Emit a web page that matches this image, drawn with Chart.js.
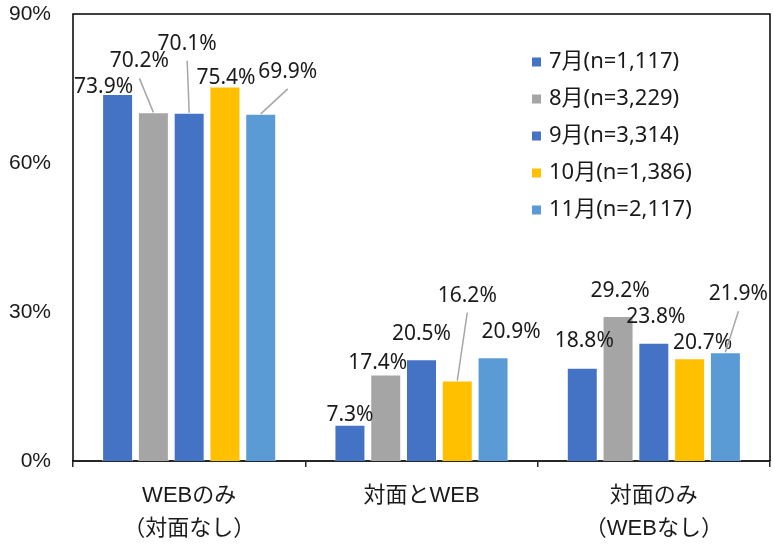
<!DOCTYPE html>
<html>
<head>
<meta charset="utf-8">
<script src="https://cdn.jsdelivr.net/npm/chart.js@4/dist/chart.umd.min.js"></script>
<style>
  body { margin: 0; background: #fff; }
  canvas { display: block; }
</style>
</head>
<body>
<canvas id="chart" width="773" height="545"></canvas>
<script>
const categories = [['WEBのみ', '（対面なし）'], '対面とWEB', ['対面のみ', '（WEBなし）']];
const seriesNames = ['7月(n=1,117)', '8月(n=3,229)', '9月(n=3,314)', '10月(n=1,386)', '11月(n=2,117)'];
const jul = [73.9, 7.3, 18.8];
const aug = [70.2, 17.4, 29.2];
const sep = [70.1, 20.5, 23.8];
const oct = [75.4, 16.2, 20.7];
const nov = [69.9, 20.9, 21.9];
const yTicks = [0, 30, 60, 90];

const colors = ['#4472C4', '#A5A5A5', '#4472C4', '#FFC000', '#5B9BD5'];

// label nudges from bar top (px): [dx, dy, leader line?]
const labelNudge = [
  [[-14, -7], [0, -10], [2, -27]],
  [[-14, -51, true], [-8, -12], [2, -25]],
  [[-2, -69, true], [0, -25], [2, -26]],
  [[1, -8], [10, -85, true], [13, -15]],
  [[27, -42, true], [18, -25], [13, -58, true]]
];

const textColor = '#1a1a1a';
const labelFont = '21px "Noto Sans", "Noto Sans CJK JP", sans-serif';
const legendFont = '22px "Noto Sans", "Noto Sans CJK JP", sans-serif';

const valueLabels = {
  id: 'valueLabels',
  afterDatasetsDraw(chart) {
    const ctx = chart.ctx;
    ctx.save();
    ctx.font = labelFont;
    ctx.textAlign = 'center';
    ctx.textBaseline = 'middle';
    chart.data.datasets.forEach((ds, di) => {
      chart.getDatasetMeta(di).data.forEach((bar, i) => {
        const n = labelNudge[di][i];
        const lx = bar.x + n[0];
        const ly = bar.y + n[1];
        if (n[2]) {
          ctx.strokeStyle = '#A6A6A6';
          ctx.lineWidth = 1.5;
          ctx.beginPath();
          ctx.moveTo(lx, ly + 17);
          ctx.lineTo(bar.x, bar.y);
          ctx.stroke();
        }
        ctx.fillStyle = textColor;
        ctx.fillText(ds.data[i].toFixed(1) + '%', lx, ly);
      });
    });
    ctx.restore();
  }
};

const boxAndLegend = {
  id: 'boxAndLegend',
  afterDraw(chart) {
    const ctx = chart.ctx;
    const a = chart.chartArea;
    ctx.save();
    ctx.strokeStyle = '#000';
    ctx.lineWidth = 1.5;
    ctx.beginPath();
    ctx.moveTo(a.left, a.bottom);
    ctx.lineTo(a.left, a.top);
    ctx.lineTo(a.right, a.top);
    ctx.lineTo(a.right, a.bottom);
    ctx.stroke();

    ctx.font = legendFont;
    ctx.textAlign = 'left';
    ctx.textBaseline = 'middle';
    chart.data.datasets.forEach((ds, di) => {
      const y = 62 + di * 37;
      ctx.fillStyle = ds.backgroundColor;
      ctx.fillRect(532, y - 4.5, 9, 9);
      ctx.fillStyle = textColor;
      ctx.fillText(ds.label, 549, y);
    });
    ctx.restore();
  }
};

const seriesValues = [jul, aug, sep, oct, nov];

new Chart(document.getElementById('chart'), {
  type: 'bar',
  data: {
    labels: categories,
    datasets: seriesValues.map((vals, i) => ({
      label: seriesNames[i],
      data: vals,
      backgroundColor: colors[i],
      borderColor: 'rgba(255,255,255,0.6)',
      borderWidth: 1,
      categoryPercentage: 0.77,
      barPercentage: 0.866
    }))
  },
  options: {
    responsive: false,
    animation: false,
    layout: { padding: { top: 14, right: 3, left: 0, bottom: 0 } },
    plugins: {
      legend: { display: false },
      tooltip: { enabled: false }
    },
    scales: {
      x: {
        grid: {
          display: true,
          drawOnChartArea: false,
          drawTicks: true,
          tickLength: 6,
          offset: true,
          color: '#262626',
          lineWidth: 1.5
        },
        border: { display: true, color: '#262626', width: 2 },
        ticks: {
          color: textColor,
          padding: 12,
          font: { family: '"Liberation Sans", "Noto Sans CJK JP", sans-serif', size: 22, lineHeight: 1.5 }
        },
        afterFit(scale) { scale.height = 84; }
      },
      y: {
        min: 0,
        max: 90,
        grid: { display: false, drawTicks: false },
        border: { display: false },
        afterBuildTicks(scale) { scale.ticks = yTicks.map(v => ({ value: v })); },
        ticks: {
          color: textColor,
          padding: 22,
          font: { family: '"Liberation Sans", sans-serif', size: 21 },
          callback: v => v + '%'
        },
        afterFit(scale) {
          scale.width = 73;
          scale.paddingTop = 0;
          scale.paddingBottom = 0;
        }
      }
    }
  },
  plugins: [valueLabels, boxAndLegend]
});
</script>
</body>
</html>
